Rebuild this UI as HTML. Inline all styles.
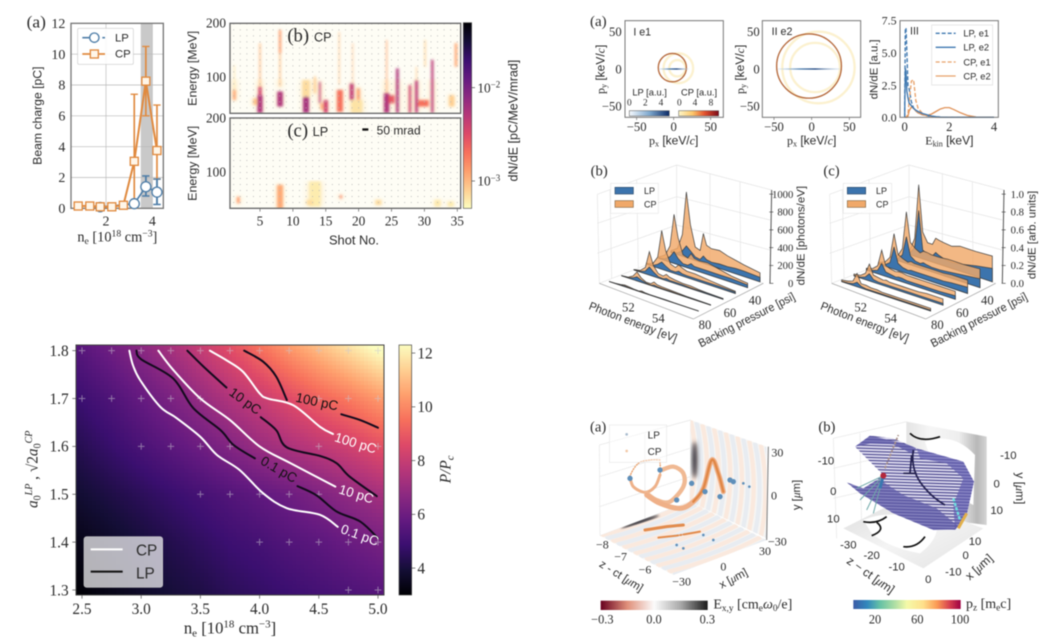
<!DOCTYPE html>
<html lang="en"><head><meta charset="utf-8"><title>Polarization comparison figure</title>
<style>
html,body{margin:0;padding:0;background:#fff;width:1064px;height:640px;overflow:hidden}
svg{display:block;filter:blur(.4px)}
text{font-family:"Liberation Sans","DejaVu Sans",sans-serif;fill:#2a2a2a}
.s{font-family:"Liberation Serif","DejaVu Serif",serif}
</style></head><body>
<svg id="fig" xmlns="http://www.w3.org/2000/svg" width="1064" height="640" viewBox="0 0 1064 640">
<defs>
<clipPath id="clipB"><rect x="690" y="70" width="692" height="270"/></clipPath>
<clipPath id="clipC"><rect x="690" y="354" width="692" height="271"/></clipPath>
<clipPath id="clipHeat"><rect x="228" y="45" width="924" height="750"/></clipPath>
<clipPath id="clipWall"><polygon points="362,45 590,125 590,400 360,290"/></clipPath>
<clipPath id="clipFloor"><polygon points="90,392 360,290 590,405 310,510"/></clipPath>
<clipPath id="clipMesh"><path d="M855,125 L900,92 L970,100 L1040,130 L1180,170 L1212,230 L1190,330 L1155,375 L1090,375 L970,325 L870,265 L830,232 L880,250 L920,225 L940,210 Z"/></clipPath>
<filter id="soft" x="-5%" y="-5%" width="110%" height="110%"><feGaussianBlur stdDeviation="4"/></filter>
<filter id="softHalo" x="-5%" y="-5%" width="110%" height="110%"><feGaussianBlur stdDeviation="8"/></filter>
<filter id="softer" x="-60%" y="-40%" width="220%" height="180%"><feGaussianBlur stdDeviation="6"/></filter>
<linearGradient id="gMagma" x1="0" y1="1" x2="0" y2="0"><stop offset="0" stop-color="#000004"/><stop offset=".1" stop-color="#140e36"/><stop offset=".2" stop-color="#3b0f70"/><stop offset=".3" stop-color="#641a80"/><stop offset=".4" stop-color="#8c2981"/><stop offset=".5" stop-color="#b73779"/><stop offset=".6" stop-color="#de4968"/><stop offset=".7" stop-color="#f7705c"/><stop offset=".8" stop-color="#fe9f6d"/><stop offset=".9" stop-color="#fecf92"/><stop offset="1" stop-color="#fcfdbf"/></linearGradient>
<linearGradient id="gMagmaR" x1="0" y1="0" x2="0" y2="1"><stop offset="0" stop-color="#000004"/><stop offset=".1" stop-color="#140e36"/><stop offset=".2" stop-color="#3b0f70"/><stop offset=".3" stop-color="#641a80"/><stop offset=".4" stop-color="#8c2981"/><stop offset=".5" stop-color="#b73779"/><stop offset=".6" stop-color="#de4968"/><stop offset=".7" stop-color="#f7705c"/><stop offset=".8" stop-color="#fe9f6d"/><stop offset=".9" stop-color="#fecf92"/><stop offset="1" stop-color="#fcfdbf"/></linearGradient>
<linearGradient id="gBlues"><stop offset="0" stop-color="#f5f9fd"/><stop offset=".5" stop-color="#7fa9cf"/><stop offset="1" stop-color="#0b2a66"/></linearGradient>
<linearGradient id="gHot"><stop offset="0" stop-color="#fdf6c8"/><stop offset=".35" stop-color="#fdc76a"/><stop offset=".65" stop-color="#e3522f"/><stop offset="1" stop-color="#7a0a18"/></linearGradient>
<linearGradient id="gRdGy"><stop offset="0" stop-color="#67001f"/><stop offset=".25" stop-color="#e0907a"/><stop offset=".5" stop-color="#fbfbfb"/><stop offset=".75" stop-color="#a8a8a8"/><stop offset="1" stop-color="#1a1a1a"/></linearGradient>
<linearGradient id="gSpec"><stop offset="0" stop-color="#3b5ba6"/><stop offset=".13" stop-color="#3288bd"/><stop offset=".25" stop-color="#66c2a5"/><stop offset=".38" stop-color="#abdda4"/><stop offset=".5" stop-color="#f5f9a8"/><stop offset=".65" stop-color="#fee08b"/><stop offset=".78" stop-color="#fb9a55"/><stop offset=".9" stop-color="#d53e4f"/><stop offset="1" stop-color="#9e0142"/></linearGradient>
<linearGradient id="gBlueLineI"><stop offset="0" stop-color="#cfe0ee" stop-opacity=".4"/><stop offset=".35" stop-color="#4d7fb0"/><stop offset=".6" stop-color="#0f3a78"/><stop offset="1" stop-color="#cfe0ee" stop-opacity=".4"/></linearGradient>
<linearGradient id="gWallShade"><stop offset="0" stop-color="#e4e4e4"/><stop offset=".3" stop-color="#f6f6f6"/><stop offset=".65" stop-color="#eeeeee"/><stop offset=".88" stop-color="#b8b8b8"/><stop offset="1" stop-color="#d4d4d4"/></linearGradient>
<linearGradient id="gFloorShade" x1="0" y1="0" x2="1" y2="1"><stop offset="0" stop-color="#dcdcdc"/><stop offset=".5" stop-color="#f4f4f4"/><stop offset="1" stop-color="#e2e2e2"/></linearGradient>
</defs>

<!-- TOP LEFT -->
<g id="topLeft" transform="scale(.33333)">
 <text class="s" x="80" y="82" font-size="52">(a)</text>
 <g id="paneA"></g>
 <text x="352" y="724" class="s" font-size="43" text-anchor="middle">n<tspan dy="8" font-size="29">e</tspan><tspan dy="-8"> [10</tspan><tspan dy="-15" font-size="29">18</tspan><tspan dy="15"> cm</tspan><tspan dy="-15" font-size="29">−3</tspan><tspan dy="15">]</tspan></text>
 <text transform="translate(124,347) rotate(-90)" font-size="36" text-anchor="middle" textLength="295" lengthAdjust="spacingAndGlyphs">Beam charge [pC]</text>
 <rect x="233" y="85" width="167" height="108" fill="#fff" fill-opacity=".85" stroke="#ccc" stroke-width="2" rx="4"/>
 <line x1="247" y1="113" x2="315" y2="113" stroke="#4f7ea8" stroke-width="5" stroke-dasharray="46 14 8"/>
 <circle cx="283" cy="113" r="14" fill="#fff" stroke="#4f7ea8" stroke-width="4"/>
 <text x="345" y="125" font-size="34">LP</text>
 <line x1="247" y1="162" x2="315" y2="162" stroke="#e08a3f" stroke-width="5"/>
 <rect x="271" y="150" width="24" height="24" fill="#fff6e8" stroke="#e08a3f" stroke-width="4"/>
 <text x="345" y="173" font-size="34">CP</text>

 <rect x="690" y="70" width="692" height="270" fill="#fefdf5"/>
 <rect x="690" y="354" width="692" height="271" fill="#fefdf5"/>
 <g id="paneSpec"></g>
 <rect x="690" y="70" width="692" height="270" fill="none" stroke="#666" stroke-width="4"/>
 <rect x="690" y="354" width="692" height="271" fill="none" stroke="#666" stroke-width="4"/>
 <text class="s" x="862" y="125" font-size="56">(b)</text>
 <text x="942" y="124" font-size="38">CP</text>
 <text class="s" x="862" y="410" font-size="56">(c)</text>
 <text x="938" y="408" font-size="38">LP</text>
 <rect x="1087" y="385" width="18" height="7" fill="#111"/>
 <text x="1130" y="403" font-size="36">50 mrad</text>
 <text x="1062" y="734" font-size="38" text-anchor="middle" textLength="150" lengthAdjust="spacingAndGlyphs">Shot No.</text>
 <text transform="translate(590,205) rotate(-90)" font-size="36" text-anchor="middle" textLength="225" lengthAdjust="spacingAndGlyphs">Energy [MeV]</text>
 <text transform="translate(590,490) rotate(-90)" font-size="36" text-anchor="middle" textLength="225" lengthAdjust="spacingAndGlyphs">Energy [MeV]</text>
 <rect x="1390" y="68" width="25" height="557" fill="url(#gMagmaR)" stroke="#555" stroke-width="2"/>
 <text class="s" x="1432" y="277" font-size="40">10<tspan dy="-14" font-size="27">−2</tspan></text>
 <text class="s" x="1432" y="557" font-size="40">10<tspan dy="-14" font-size="27">−3</tspan></text>
 <line x1="1415" y1="263" x2="1425" y2="263" stroke="#444" stroke-width="2"/>
 <line x1="1415" y1="543" x2="1425" y2="543" stroke="#444" stroke-width="2"/>
 <text transform="translate(1552,362) rotate(-90)" font-size="38" text-anchor="middle" textLength="365" lengthAdjust="spacingAndGlyphs">dN/dE [pC/MeV/mrad]</text>
</g>

<!-- BOTTOM LEFT -->
<g id="bottomLeft" transform="translate(0,330) scale(.33333)">
 <g id="heatCells" clip-path="url(#clipHeat)"></g>
 <g id="heatOver" clip-path="url(#clipHeat)"></g>
 <rect x="228" y="45" width="924" height="750" fill="none" stroke="#444" stroke-width="3"/>
 <g id="heatAxes"></g>
 <text transform="translate(948,228) rotate(12)" font-size="40" style="fill:#111" text-anchor="middle">100 pC</text>
 <text transform="translate(728,224) rotate(36)" font-size="40" style="fill:#111" text-anchor="middle">10 pC</text>
 <text transform="translate(830,430) rotate(30)" font-size="40" style="fill:#111" text-anchor="middle">0.1 pC</text>
 <text transform="translate(1063,352) rotate(17)" font-size="40" style="fill:#fff" text-anchor="middle">100 pC</text>
 <text transform="translate(1065,505) rotate(17)" font-size="40" style="fill:#fff" text-anchor="middle">10 pC</text>
 <text transform="translate(1075,628) rotate(20)" font-size="40" style="fill:#fff" text-anchor="middle">0.1 pC</text>
 <rect x="252" y="620" width="236" height="152" rx="8" fill="#fff" fill-opacity=".7" stroke="#ccc" stroke-width="2"/>
 <line x1="272" y1="658" x2="368" y2="658" stroke="#fff" stroke-width="6"/>
 <line x1="272" y1="725" x2="368" y2="725" stroke="#111" stroke-width="6"/>
 <text x="408" y="677" font-size="46">CP</text>
 <text x="408" y="745" font-size="46">LP</text>
 <rect x="1197" y="45" width="38" height="750" fill="url(#gMagma)" stroke="#444" stroke-width="2"/>
 <text class="s" transform="translate(1352,418) rotate(-90)" font-size="46" font-style="italic" text-anchor="middle">P/P<tspan dy="8" font-size="32">c</tspan></text>
 <text class="s" transform="translate(112,418) rotate(-90)" font-size="46" text-anchor="middle"><tspan font-style="italic">a</tspan><tspan dy="10" font-size="30">0</tspan><tspan dy="-26" font-size="30" font-style="italic">LP</tspan><tspan dy="16"> , √2</tspan><tspan font-style="italic">a</tspan><tspan dy="10" font-size="30">0</tspan><tspan dy="-26" font-size="30" font-style="italic">CP</tspan></text>
 <text class="s" x="690" y="910" font-size="50" text-anchor="middle">n<tspan dy="9" font-size="33">e</tspan><tspan dy="-9">  [10</tspan><tspan dy="-17" font-size="33">18</tspan><tspan dy="17"> cm</tspan><tspan dy="-17" font-size="33">−3</tspan><tspan dy="17">]</tspan></text>
</g>

<!-- TOP RIGHT -->
<g id="topRight" transform="translate(570,0) scale(.33333)">
 <text class="s" x="60" y="78" font-size="45">(a)</text>
 <g id="ringI"></g>
 <g id="ringII"></g>
 <g id="energy"></g>
 <rect x="165" y="62" width="295" height="290" fill="none" stroke="#777" stroke-width="3"/>
 <rect x="577" y="62" width="295" height="290" fill="none" stroke="#777" stroke-width="3"/>
 <rect x="990" y="62" width="295" height="290" fill="none" stroke="#777" stroke-width="3"/>
 <text x="190" y="107" font-size="32">I e1</text>
 <text x="605" y="105" font-size="32">II e2</text>
 <text x="1020" y="104" font-size="32">III</text>
 <text x="187" y="287" font-size="28">LP [a.u.]</text>
 <text x="333" y="287" font-size="28">CP [a.u.]</text>
 <rect x="178" y="332" width="120" height="16" fill="url(#gBlues)" stroke="#555" stroke-width="1.5"/>
 <rect x="326" y="332" width="120" height="16" fill="url(#gHot)" stroke="#555" stroke-width="1.5"/>
 <text class="s" x="178" y="316" font-size="28" text-anchor="middle">0</text>
 <text class="s" x="226" y="316" font-size="28" text-anchor="middle">2</text>
 <text class="s" x="273" y="316" font-size="28" text-anchor="middle">4</text>
 <text class="s" x="328" y="316" font-size="28" text-anchor="middle">0</text>
 <text class="s" x="375" y="316" font-size="28" text-anchor="middle">4</text>
 <text class="s" x="423" y="316" font-size="28" text-anchor="middle">8</text>
 <text transform="translate(104,208) rotate(-90)" font-size="36" text-anchor="middle"><tspan class="s">p</tspan><tspan dy="6" font-size="24" class="s">y</tspan><tspan dy="-6"> [keV/</tspan><tspan class="s" font-style="italic">c</tspan>]</text>
 <text x="311" y="433" font-size="36" text-anchor="middle"><tspan class="s">p</tspan><tspan dy="6" font-size="24" class="s">x</tspan><tspan dy="-6"> [keV/</tspan><tspan class="s" font-style="italic">c</tspan>]</text>
 <text transform="translate(522,208) rotate(-90)" font-size="36" text-anchor="middle"><tspan class="s">p</tspan><tspan dy="6" font-size="24" class="s">y</tspan><tspan dy="-6"> [keV/</tspan><tspan class="s" font-style="italic">c</tspan>]</text>
 <text x="725" y="433" font-size="36" text-anchor="middle"><tspan class="s">p</tspan><tspan dy="6" font-size="24" class="s">x</tspan><tspan dy="-6"> [keV/</tspan><tspan class="s" font-style="italic">c</tspan>]</text>
 <text transform="translate(922,208) rotate(-90)" font-size="34" text-anchor="middle">dN/dE [a.u.]</text>
 <text x="1138" y="433" font-size="36" text-anchor="middle"><tspan class="s">E</tspan><tspan dy="6" font-size="24" class="s">kin</tspan><tspan dy="-6"> [keV]</tspan></text>
 <rect x="1085" y="75" width="183" height="180" fill="#fff" fill-opacity=".85" stroke="#ddd" stroke-width="2"/>
 <line x1="1097" y1="100" x2="1157" y2="100" stroke="#3f78b0" stroke-width="4" stroke-dasharray="12 6"/>
 <line x1="1097" y1="142" x2="1157" y2="142" stroke="#3f78b0" stroke-width="4"/>
 <line x1="1097" y1="186" x2="1157" y2="186" stroke="#e8a26a" stroke-width="4" stroke-dasharray="12 6"/>
 <line x1="1097" y1="228" x2="1157" y2="228" stroke="#e8a26a" stroke-width="4"/>
 <text x="1180" y="110" font-size="28">LP, e1</text>
 <text x="1180" y="152" font-size="28">LP, e2</text>
 <text x="1180" y="196" font-size="28">CP, e1</text>
 <text x="1180" y="238" font-size="28">CP, e2</text>
</g>

<!-- MIDDLE RIGHT -->
<g id="midRight" transform="translate(570,155) scale(.33333)">
 <g id="pane3dB"></g>
 <g id="pane3dC"></g>
 <text class="s" x="62" y="62" font-size="44">(b)</text>
 <text class="s" x="760" y="62" font-size="44">(c)</text>
 <rect x="122" y="85" width="143" height="90" fill="#fff" fill-opacity=".8" stroke="#e6e6e6" stroke-width="2"/>
 <rect x="135" y="97" width="55" height="20" fill="#3c74ad" stroke="#2a4a6a" stroke-width="2"/>
 <rect x="135" y="137" width="55" height="20" fill="#f0a869" stroke="#8a6a45" stroke-width="2"/>
 <text x="222" y="117" font-size="27">LP</text>
 <text x="222" y="157" font-size="27">CP</text>
 <rect x="820" y="85" width="145" height="90" fill="#fff" fill-opacity=".8" stroke="#e6e6e6" stroke-width="2"/>
 <rect x="832" y="97" width="55" height="20" fill="#3c74ad" stroke="#2a4a6a" stroke-width="2"/>
 <rect x="832" y="137" width="55" height="20" fill="#f0a869" stroke="#8a6a45" stroke-width="2"/>
 <text x="918" y="117" font-size="27">LP</text>
 <text x="918" y="157" font-size="27">CP</text>
 <text transform="translate(185,512) rotate(21)" font-size="35" text-anchor="middle" textLength="280" lengthAdjust="spacingAndGlyphs">Photon energy [eV]</text>
 <text transform="translate(880,512) rotate(21)" font-size="35" text-anchor="middle" textLength="280" lengthAdjust="spacingAndGlyphs">Photon energy [eV]</text>
 <text transform="translate(535,505) rotate(-27)" font-size="35" text-anchor="middle" textLength="320" lengthAdjust="spacingAndGlyphs">Backing pressure [psi]</text>
 <text transform="translate(1232,505) rotate(-27)" font-size="35" text-anchor="middle" textLength="320" lengthAdjust="spacingAndGlyphs">Backing pressure [psi]</text>
 <text transform="translate(704,242) rotate(-90)" font-size="33" text-anchor="middle" textLength="298" lengthAdjust="spacingAndGlyphs">dN/dE [photons/eV]</text>
 <text transform="translate(1396,240) rotate(-90)" font-size="33" text-anchor="middle" textLength="265" lengthAdjust="spacingAndGlyphs">dN/dE [arb. units]</text>
</g>

<!-- BOTTOM RIGHT -->
<g id="botRight" transform="translate(570,405) scale(.33333)">
 <g id="scene3a"></g>
 <g id="scene3b"></g>
 <text class="s" x="60" y="80" font-size="44">(a)</text>
 <text class="s" x="745" y="80" font-size="44">(b)</text>
 <rect x="118" y="60" width="172" height="112" fill="#fff" fill-opacity=".45" stroke="#e8e8e8" stroke-width="2"/>
 <circle cx="170" cy="88" r="4" fill="#a9bccf"/>
 <circle cx="170" cy="138" r="4" fill="#f2c9a8"/>
 <text x="233" y="100" font-size="30">LP</text>
 <text x="233" y="150" font-size="30">CP</text>
 <text class="s" x="97" y="430" font-size="36" text-anchor="middle">−8</text>
 <text class="s" x="152" y="466" font-size="36" text-anchor="middle">−7</text>
 <text class="s" x="225" y="505" font-size="36" text-anchor="middle">−6</text>
 <text class="s" x="335" y="542" font-size="36" text-anchor="middle">−30</text>
 <text class="s" x="460" y="496" font-size="36" text-anchor="middle">0</text>
 <text class="s" x="585" y="450" font-size="36" text-anchor="middle">30</text>
 <text class="s" x="622" y="155" font-size="36" text-anchor="middle">30</text>
 <text class="s" x="612" y="284" font-size="36" text-anchor="middle">0</text>
 <text class="s" x="622" y="422" font-size="36" text-anchor="middle">−30</text>
 <text transform="translate(148,522) rotate(32)" font-size="34" text-anchor="middle">z - ct [<tspan class="s" font-style="italic">μ</tspan>m]</text>
 <text transform="translate(495,530) rotate(-28)" font-size="34" text-anchor="middle">x [<tspan class="s" font-style="italic">μ</tspan>m]</text>
 <text transform="translate(690,270) rotate(-90)" font-size="34" text-anchor="middle">y [<tspan class="s" font-style="italic">μ</tspan>m]</text>
 <rect x="92" y="587" width="321" height="28" fill="url(#gRdGy)"/>
 <text class="s" x="97" y="655" font-size="37" text-anchor="middle">−0.3</text>
 <text class="s" x="252" y="655" font-size="37" text-anchor="middle">0.0</text>
 <text class="s" x="412" y="655" font-size="37" text-anchor="middle">0.3</text>
 <text class="s" x="430" y="611" font-size="42">E<tspan dy="7" font-size="28">x,y</tspan><tspan dy="-7"> [cm</tspan><tspan dy="7" font-size="28">e</tspan><tspan dy="-7" font-style="italic">ω</tspan><tspan dy="7" font-size="28">0</tspan><tspan dy="-7">/e]</tspan></text>
 <text x="768" y="178" font-size="34" text-anchor="middle">-10</text>
 <text x="790" y="270" font-size="34" text-anchor="middle">0</text>
 <text x="790" y="352" font-size="34" text-anchor="middle">10</text>
 <text x="835" y="430" font-size="34" text-anchor="middle">-30</text>
 <text x="905" y="462" font-size="34" text-anchor="middle">-20</text>
 <text x="980" y="497" font-size="34" text-anchor="middle">-10</text>
 <text x="1075" y="534" font-size="34" text-anchor="middle">0</text>
 <text x="1150" y="512" font-size="34" text-anchor="middle">-10</text>
 <text x="1187" y="462" font-size="34" text-anchor="middle">0</text>
 <text x="1215" y="420" font-size="34" text-anchor="middle">10</text>
 <text x="1315" y="162" font-size="34" text-anchor="middle">-10</text>
 <text x="1280" y="247" font-size="34" text-anchor="middle">0</text>
 <text x="1280" y="327" font-size="34" text-anchor="middle">10</text>
 <text transform="translate(895,520) rotate(35)" font-size="36" text-anchor="middle">z − ct [<tspan class="s" font-style="italic">μ</tspan>m]</text>
 <text transform="translate(1235,495) rotate(-42)" font-size="36" text-anchor="middle">x [<tspan class="s" font-style="italic">μ</tspan>m]</text>
 <text transform="translate(1338,250) rotate(90)" font-size="36" text-anchor="middle">y [<tspan class="s" font-style="italic">μ</tspan>m]</text>
 <rect x="850" y="585" width="322" height="27" fill="url(#gSpec)"/>
 <text class="s" x="915" y="655" font-size="37" text-anchor="middle">20</text>
 <text class="s" x="1042" y="655" font-size="37" text-anchor="middle">60</text>
 <text class="s" x="1170" y="655" font-size="37" text-anchor="middle">100</text>
 <text class="s" x="1188" y="609" font-size="42">p<tspan dy="7" font-size="28">z</tspan><tspan dy="-7"> [m</tspan><tspan dy="7" font-size="28">e</tspan><tspan dy="-7">c]</tspan></text>
</g>
</svg>

<script>
/* ---------- data: beam charge ---------- */
const chargeNe = [0.8, 1.3, 1.75, 2.25, 2.75, 3.22, 3.72, 4.2];
const chargeCP = [0.15, 0.15, 0.1, 0.1, 0.2, 3.05, 8.25, 3.75];
const chargeCPLow = [0.1, 0.1, 0.05, 0.05, 0.1, 0.0, 6.0, 1.9];
const chargeCPHigh = [0.2, 0.2, 0.15, 0.15, 0.4, 7.4, 10.5, 6.7];
const chargeLPNe = [1.75, 3.22, 3.72, 4.2];
const chargeLP = [0.08, 0.3, 1.4, 1.05];
const chargeLPLow = [0.05, 0.1, 0.8, 0.25];
const chargeLPHigh = [0.12, 0.5, 2.1, 1.9];
const chargeYTicks = [0, 2, 4, 6, 8, 10, 12];
const chargeXTicks = [2, 4];

/* ---------- data: shot spectra ---------- */
const cpShot = [1.1,1.1,5,5,5,8.05,8.05,8.05,4.25,12,12,13.35,14.1,14.4,15,17.15,17.05,19.1,18.95,19.95,19.7,24.25,24.25,25.9,25,27.8,28.8,28.8,30.1,29.85,31.2,34.15,34.8];
const cpHigh = [122,76,163,82,66,188,144,73,60,94,63,101,91,51,57,76,184,163,88,79,57,169,70,116,66,85,94,119,169,57,132,66,163];
const cpLow = [76,57,82,66,33,144,82,45,48,63,33,70,51,39,33,35,85,88,57,57,33,70,33,33,51,33,33,94,119,45,33,45,119];
const cpLevel = [.08,.25,.2,.6,.72,.28,.18,.72,.18,.1,.75,.15,.65,.25,.6,.42,.18,.22,.65,.28,.08,.24,.72,.72,.5,.62,.68,.15,.14,.42,.68,.14,.25];
const cpSpread = [.15,.45,.22,.5,.8,.35,.22,.85,.6,1.1,.9,.3,.25,.4,.65,.9,.15,.12,.6,.45,1.7,.18,.8,.42,.9,.35,.42,.16,.2,1.6,.35,.8,.4];
const lpShot = [1.7,8.05,13.35,13.35,12.6,17.3,23,32,34];
const lpHigh = [55,77,74,83,49,58,49,49,46];
const lpLow = [43,33,61,37,40,52,40,37,37];
const lpLevel = [.3,.25,.55,.05,.1,.35,.1,.06,.05];
const lpSpread = [.4,.9,.4,1.7,1,.35,.9,.9,.9];
const specShotTicks = [5,10,15,20,25,30,35];
const specEnergyTicks = [200,100];

/* ---------- data: threshold heat map ---------- */
const heatNe = [2.5,2.75,3,3.25,3.5,3.75,4,4.25,4.5,4.75,5];
const heatA = [1.3,1.4,1.5,1.6,1.7,1.8];
const heatP13 = [3.1,3.4,3.7,4.0,4.2,4.5,4.7,4.9,5.1,5.3,5.5];
const heatP14 = [3.4,3.7,4.0,4.3,4.6,4.9,5.1,5.4,5.6,5.9,6.2];
const heatP15 = [3.9,4.2,4.5,4.8,5.1,5.4,5.7,6.0,6.4,6.8,7.2];
const heatP16 = [4.4,4.8,5.2,5.6,6.0,6.5,7.0,7.4,7.8,8.2,8.7];
const heatP17 = [4.9,5.3,5.8,6.3,6.9,7.5,8.0,8.6,9.2,9.7,10.3];
const heatP18 = [5.5,6.0,6.6,7.2,7.9,8.6,9.4,10.2,10.9,11.6,12.3];
const heatXTicks = ['2.5','3.0','3.5','4.0','4.5','5.0'];
const heatYTicks = ['1.8','1.7','1.6','1.5','1.4','1.3'];
const heatBarTicks = [4,6,8,10,12];
const cp01Ne = [2.90,2.93,2.99,3.16,3.30,3.50,3.64,3.83,4.03,4.23,4.51,4.66];
const cp01A = [1.80,1.77,1.739,1.683,1.659,1.62,1.582,1.551,1.502,1.471,1.457,1.432];
const lp01aNe = [2.96,3.0,3.27,3.44,3.67,3.78,3.96];
const lp01aA = [1.8,1.782,1.742,1.68,1.634,1.603,1.575];
const lp01bNe = [4.32,4.48,4.65,4.85,5.0];
const lp01bA = [1.517,1.498,1.464,1.443,1.408];
const cp10Ne = [3.145,3.27,3.5,3.75,4.0,4.26,4.64];
const cp10A = [1.8,1.76,1.70,1.655,1.60,1.565,1.516];
const lp10aNe = [3.39,3.525,3.72];
const lp10aA = [1.8,1.767,1.723];
const lp10bNe = [4.01,4.14,4.23,4.51,4.65,4.76,4.99];
const lp10bA = [1.661,1.634,1.598,1.58,1.565,1.537,1.496];
const cp100Ne = [3.58,3.72,3.86,4.0,4.07,4.285,4.51,4.62];
const cp100A = [1.8,1.78,1.756,1.711,1.70,1.686,1.641,1.626];
const lp100aNe = [3.87,4.03,4.14,4.23];
const lp100aA = [1.8,1.777,1.746,1.697];
const lp100bNe = [4.69,4.85,5.0];
const lp100bA = [1.667,1.655,1.639];
const scanNe = [2.5,2.75,3,3.25,3.5,3.75,4,4.25,4.5,4.75,5, 2.5,2.75,3,3.25,3.5,4.5,4.75,5, 3,3.25,3.5,3.75,4.5,5, 3.5,3.75,4,4.25,4.5, 4,4.25,4.5,4.75,5, 4.75,5];
const scanA = [1.8,1.8,1.8,1.8,1.8,1.8,1.8,1.8,1.8,1.8,1.8, 1.7,1.7,1.7,1.7,1.7,1.7,1.7,1.7, 1.6,1.6,1.6,1.6,1.6,1.6, 1.5,1.5,1.5,1.5,1.5, 1.4,1.4,1.4,1.4,1.4, 1.3,1.3];

/* ---------- data: momentum rings and energy spectrum ---------- */
const ringsIX = [6.3,5,-1.8];
const ringsIY = [1,1,1.8];
const ringsIR = [20,11,19];
const ringsIIX = [9,4.5,-3.5];
const ringsIIY = [2,2,4];
const ringsIIR = [48,33,43];
const ringLevels = [.22,.25,.8];
const momentumTicks = [-50,0,50];
const ekinAxis = [0,.03,.06,.1,.15,.2,.3,.4,.5,.6,.8,1,1.2,1.4,1.6,1.8,2,2.2,2.5,2.8,3.2,4];
const lpE1 = [0,6.9,6.9,5,2.4,2.2,1.2,.7,.5,.35,.2,.12,.06,.03,.01,0,0,0,0,0,0,0];
const lpE2 = [0,3.8,3.5,2,1.5,1.1,.9,.7,.55,.45,.3,.2,.1,.05,.02,0,0,0,0,0,0,0];
const cpE1 = [0,0,0,.1,.3,1.2,2.8,2.9,1.3,.7,.3,.1,.03,.01,0,0,0,0,0,0,0,0];
const cpE2 = [0,0,0,0,.1,.5,.8,.7,.5,.35,.2,.15,.25,.45,.65,.75,.75,.6,.35,.15,.02,0];
const ekinXTicks = [0,2,4];
const ekinYTicks = [0,2.5,5,7.5];

/* ---------- data: 3-D photon spectra (index = ribbon, 5 is furthest back) ---------- */
const photonE = [51,51.4,51.7,51.95,52.2,52.5,52.8,53,53.2,53.5,54,54.5,55,55.5,56.5];
const bCP5 = [20,70,240,730,380,150,130,330,210,190,200,170,150,130,100];
const bLP5 = [10,20,60,130,90,40,30,80,50,40,50,50,60,60,50];
const bCP4 = [15,60,180,545,300,130,110,170,130,120,130,110,90,70,50];
const bLP4 = [5,20,60,130,70,30,30,60,40,40,40,40,40,40,30];
const bCP3 = [10,30,120,430,220,90,70,110,90,70,70,60,50,40,25];
const bLP3 = [5,10,40,80,50,20,20,40,25,20,20,20,20,20,15];
const bCP2 = [5,20,70,260,120,50,40,70,50,40,30,30,20,15,10];
const bLP2 = [3,10,30,90,50,15,10,25,15,15,15,10,10,10,8];
const bCP1 = [3,10,40,100,50,20,20,50,30,25,20,15,10,8,5];
const bLP1 = [2,5,20,45,25,10,5,15,10,8,8,5,5,5,3];
const bCP0 = [2,5,10,20,15,8,5,15,8,5,5,5,3,3,2];
const bLP0 = [1,2,5,10,6,3,2,5,3,2,2,2,1,1,1];
const cCP5 = [.02,.05,.2,.82,.3,.2,.2,.28,.27,.26,.25,.28,.28,.28,.29];
const cLP5 = [.01,.02,.1,.53,.1,.07,.07,.12,.1,.08,.07,.08,.1,.12,.15];
const cCP4 = [.02,.05,.15,.58,.25,.2,.17,.2,.2,.19,.19,.2,.2,.2,.21];
const cLP4 = [.01,.02,.08,.3,.1,.06,.05,.07,.06,.05,.05,.06,.07,.08,.1];
const cCP3 = [.02,.05,.12,.4,.18,.15,.13,.15,.14,.14,.14,.14,.14,.15,.15];
const cLP3 = [.01,.02,.06,.25,.08,.05,.04,.05,.05,.05,.05,.05,.05,.06,.07];
const cCP2 = [.02,.04,.09,.28,.12,.1,.09,.1,.1,.09,.09,.09,.09,.09,.09];
const cLP2 = [.01,.02,.04,.13,.05,.04,.03,.04,.04,.03,.03,.03,.03,.03,.04];
const cCP1 = [.02,.03,.07,.19,.08,.07,.06,.07,.06,.06,.06,.06,.06,.07,.07];
const cLP1 = [.005,.01,.03,.08,.03,.02,.02,.02,.02,.02,.02,.02,.02,.02,.02];
const cCP0 = [.02,.03,.05,.15,.05,.05,.04,.04,.04,.03,.03,.03,.03,.03,.03];
const cLP0 = [.005,.01,.02,.05,.02,.01,.01,.01,.01,.01,.01,.01,.01,.01,.01];
const bZTicks = ['0','200','400','600','800','1000'];
const cZTicks = ['0.0','0.2','0.4','0.6','0.8','1.0'];

/* ---------- data: simulated particle scene ---------- */
const orbit1X = [270,240,205,180,190,225,255,270,270];
const orbit1Y = [165,165,175,215,245,262,245,210,170];
const orbit2X = [275,310,340,340,300,260,230];
const orbit2Y = [195,185,205,245,290,285,265];
const orbit3X = [230,270,330,370,400,425,445,460];
const orbit3Y = [270,295,310,290,250,165,205,260];
const lpBlobX = [270,180,320,365,405,450,480,490,520,538,400,430,320,340];
const lpBlobY = [195,220,285,235,260,275,225,230,235,245,390,405,420,430];
const floorBandX = [225,290,340,265,320,390];
const floorBandY = [375,365,360,398,392,380];

/* ---------- helpers ---------- */
const NS = 'http://www.w3.org/2000/svg';
function mk(parent, tag, attrs, name) {
  const el = document.createElementNS(NS, tag);
  for (const k in attrs) el.setAttribute(k, attrs[k]);
  
  
  parent.appendChild(el);
  return el;
}
function tx(parent, x, y, str, size, anchor, cls, name) {
  const el = mk(parent, 'text', {x: x, y: y, 'font-size': size, 'text-anchor': anchor}, name);
  if (cls) el.setAttribute('class', cls);
  el.textContent = str;
  return el;
}
const $ = id => document.getElementById(id);
const magmaStops = [[0,0,4],[20,14,54],[59,15,112],[100,26,128],[140,41,129],[183,55,121],[222,73,104],[247,112,92],[254,159,109],[254,207,146],[252,253,191]];
function magma(t) {
  t = Math.max(0, Math.min(1, t)) * 10;
  const i = Math.min(9, Math.floor(t)), f = t - i, a = magmaStops[i], b = magmaStops[i + 1];
  return 'rgb(' + [0,1,2].map(c => Math.round(a[c] + (b[c] - a[c]) * f)).join(',') + ')';
}
function linePath(xs, ys, fx, fy) {
  return xs.map((v, i) => (i ? 'L' : 'M') + fx(v).toFixed(1) + ',' + fy(ys[i]).toFixed(1)).join(' ');
}
function smoothPath(xs, ys, fx, fy) {
  const P = xs.map((v, i) => [fx(v), fy(ys[i])]);
  let d = 'M' + P[0][0].toFixed(1) + ',' + P[0][1].toFixed(1);
  for (let i = 0; i < P.length - 1; i++) {
    const p0 = P[Math.max(0, i - 1)], p1 = P[i], p2 = P[i + 1], p3 = P[Math.min(P.length - 1, i + 2)];
    d += 'C' + (p1[0] + (p2[0] - p0[0]) / 6).toFixed(1) + ',' + (p1[1] + (p2[1] - p0[1]) / 6).toFixed(1) + ' ' +
         (p2[0] - (p3[0] - p1[0]) / 6).toFixed(1) + ',' + (p2[1] - (p3[1] - p1[1]) / 6).toFixed(1) + ' ' +
         p2[0].toFixed(1) + ',' + p2[1].toFixed(1);
  }
  return d;
}

/* ---------- beam charge ---------- */
(function () {
  const g = $('paneA');
  const xA = v => 318 + (v - 2) * 69.5, yA = v => 625 - v * 46.25;
  mk(g, 'rect', {x: 213, y: 70, width: 277, height: 555, fill: '#fff'}, 'beam-charge-plot-area');
  mk(g, 'rect', {x: xA(3.5), y: 70, width: xA(4) - xA(3.5), height: 555, fill: '#c9c9c9'}, 'optimal-density-band');
  chargeYTicks.forEach(v => {
    mk(g, 'line', {x1: 213, x2: 490, y1: yA(v), y2: yA(v), stroke: '#b9b9b9', 'stroke-width': 2}, 'charge-gridline');
    tx(g, 196, yA(v) + 14, String(v), 42, 'end', 's', 'charge-y-tick-label');
  });
  chargeXTicks.forEach(v => {
    mk(g, 'line', {x1: xA(v), x2: xA(v), y1: 70, y2: 625, stroke: '#b9b9b9', 'stroke-width': 2}, 'charge-gridline');
    tx(g, xA(v), 676, String(v), 42, 'middle', 's', 'charge-x-tick-label');
  });
  mk(g, 'rect', {x: 213, y: 70, width: 277, height: 555, fill: 'none', stroke: '#777', 'stroke-width': 4}, 'beam-charge-frame');
  function err(xs, lo, hi, color, nm) {
    xs.forEach((x, i) => {
      mk(g, 'line', {x1: xA(x), x2: xA(x), y1: yA(lo[i]), y2: yA(hi[i]), stroke: color, 'stroke-width': 5}, nm + '-error-bar');
      mk(g, 'line', {x1: xA(x) - 11, x2: xA(x) + 11, y1: yA(hi[i]), y2: yA(hi[i]), stroke: color, 'stroke-width': 4}, nm + '-error-cap');
      mk(g, 'line', {x1: xA(x) - 11, x2: xA(x) + 11, y1: yA(lo[i]), y2: yA(lo[i]), stroke: color, 'stroke-width': 4}, nm + '-error-cap');
    });
  }
  err(chargeLPNe, chargeLPLow, chargeLPHigh, '#4f7ea8', 'lp');
  mk(g, 'path', {d: linePath(chargeLPNe, chargeLP, xA, yA), fill: 'none', stroke: '#4f7ea8', 'stroke-width': 5}, 'lp-charge-line');
  chargeLPNe.forEach((x, i) => {
    mk(g, 'circle', {cx: xA(x), cy: yA(chargeLP[i]), r: 14, fill: '#fff', stroke: '#4f7ea8', 'stroke-width': 4}, 'lp-charge-point');
  });
  err(chargeNe, chargeCPLow, chargeCPHigh, '#e08a3f', 'cp');
  mk(g, 'path', {d: linePath(chargeNe, chargeCP, xA, yA), fill: 'none', stroke: '#e08a3f', 'stroke-width': 6}, 'cp-charge-line');
  chargeNe.forEach((x, i) => {
    mk(g, 'rect', {x: xA(x) - 12, y: yA(chargeCP[i]) - 12, width: 24, height: 24, fill: '#fff6e8', stroke: '#e08a3f', 'stroke-width': 4}, 'cp-charge-point');
  });
  err(chargeLPNe.slice(2), chargeLPLow.slice(2), chargeLPHigh.slice(2), '#4f7ea8', 'lp-front');
  chargeLPNe.slice(1).forEach((x, i) => {
    mk(g, 'circle', {cx: xA(x), cy: yA(chargeLP[i + 1]), r: 15, fill: '#fff', stroke: '#4f7ea8', 'stroke-width': 4}, 'lp-charge-point-front');
  });
})();

/* ---------- shot spectra ---------- */
(function () {
  const g = $('paneSpec');
  const xS = s => 780 + (s - 5) * 19.73;
  const yB = e => 70 + (200 - e) * 1.61, yC = e => 354 + (200 - e) * 1.63;
  function blobs(shot, hi, lo, lvl, sp, fy, clip, nm) {
    const c = mk(g, 'g', {'clip-path': 'url(#' + clip + ')'}, nm + '-clip');
    const h = mk(c, 'g', {filter: 'url(#softHalo)'}, nm + '-halos');
    shot.forEach((s, i) => {
      const w = Math.max(sp[i] * 1.5, 1.1) * 19.73;
      if (lo[i] < 85) mk(h, 'rect', {x: xS(s) - w / 2, y: fy(Math.min(hi[i], 95)), width: w, height: fy(lo[i]) - fy(Math.min(hi[i], 95)), fill: '#fdeecb', 'fill-opacity': .75}, nm + '-halo');
    });
    const b = mk(c, 'g', {filter: 'url(#soft)'}, nm + '-streaks');
    shot.forEach((s, i) => {
      mk(b, 'rect', {x: xS(s) - sp[i] * 19.73 / 2, y: fy(hi[i]), width: sp[i] * 19.73, height: fy(lo[i]) - fy(hi[i]), fill: magma(1 - lvl[i] * .72)}, nm + '-streak');
    });
    const d = mk(c, 'g', {}, nm + '-shot-dots');
    for (let s = 1; s <= 35; s++) {
      mk(d, 'line', {x1: xS(s), x2: xS(s), y1: fy(200), y2: fy(33), stroke: '#b4b4b4', 'stroke-width': 2.5, 'stroke-dasharray': '3 15'}, nm + '-dotted-shot-line');
    }
  }
  blobs(cpShot, cpHigh, cpLow, cpLevel, cpSpread, yB, 'clipB', 'cp-spectra');
  blobs(lpShot, lpHigh, lpLow, lpLevel, lpSpread, yC, 'clipC', 'lp-spectra');
  specShotTicks.forEach(s => {
    mk(g, 'line', {x1: xS(s), x2: xS(s), y1: 625, y2: 635, stroke: '#555', 'stroke-width': 2}, 'shot-tick');
    tx(g, xS(s), 676, String(s), 40, 'middle', 's', 'shot-tick-label');
  });
  specEnergyTicks.forEach(e => {
    tx(g, 678, yB(e) + 13, String(e), 40, 'end', 's', 'energy-tick-label-b');
    tx(g, 678, yC(e) + 13, String(e), 40, 'end', 's', 'energy-tick-label-c');
  });
})();

/* ---------- threshold heat map ---------- */
(function () {
  const rows = [heatP13, heatP14, heatP15, heatP16, heatP17, heatP18];
  const xH = n => 246 + (n - 2.5) * 355.2, yH = a => 62 + (1.8 - a) * 1436;
  const invX = x => 2.5 + (x - 246) / 355.2, invY = y => 1.8 - (y - 62) / 1436;
  function sample(n, a) {
    const i = Math.max(0, Math.min(heatNe.length - 2, Math.floor((n - heatNe[0]) / (heatNe[1] - heatNe[0]))));
    const j = Math.max(0, Math.min(heatA.length - 2, Math.floor((a - heatA[0]) / (heatA[1] - heatA[0]))));
    const u = (n - heatNe[i]) / (heatNe[i + 1] - heatNe[i]), v = (a - heatA[j]) / (heatA[j + 1] - heatA[j]);
    return (1 - v) * ((1 - u) * rows[j][i] + u * rows[j][i + 1]) + v * ((1 - u) * rows[j + 1][i] + u * rows[j + 1][i + 1]);
  }
  const cells = $('heatCells');
  const step = 12;
  for (let x = 228; x < 1152; x += step) for (let y = 45; y < 795; y += step) {
    const p = sample(invX(x + step / 2), invY(y + step / 2));
    mk(cells, 'rect', {x: x, y: y, width: step + 1, height: step + 1, fill: magma((p - 3) / 9.3)}, 'heatmap-cell');
  }
  const o = $('heatOver');
  scanNe.forEach((n, i) => {
    mk(o, 'path', {d: 'M' + (xH(n) - 10) + ',' + yH(scanA[i]) + 'h20M' + xH(n) + ',' + (yH(scanA[i]) - 10) + 'v20', stroke: '#cbc6cf', 'stroke-opacity': .55, 'stroke-width': 3, fill: 'none'}, 'scan-point-marker');
  });
  [[cp01Ne, cp01A, '#fff', 'cp-0-1pc'], [cp10Ne, cp10A, '#fff', 'cp-10pc'], [cp100Ne, cp100A, '#fff', 'cp-100pc'],
   [lp01aNe, lp01aA, '#120a1c', 'lp-0-1pc'], [lp01bNe, lp01bA, '#120a1c', 'lp-0-1pc'], [lp10aNe, lp10aA, '#120a1c', 'lp-10pc'],
   [lp10bNe, lp10bA, '#120a1c', 'lp-10pc'], [lp100aNe, lp100aA, '#120a1c', 'lp-100pc'], [lp100bNe, lp100bA, '#120a1c', 'lp-100pc']].forEach(c => {
    mk(o, 'path', {d: smoothPath(c[0], c[1], xH, yH), fill: 'none', stroke: c[2], 'stroke-width': 6, 'stroke-linejoin': 'round', 'stroke-linecap': 'round'}, 'contour-' + c[3]);
  });
  const a = $('heatAxes');
  heatXTicks.forEach(t => {
    mk(a, 'line', {x1: xH(+t), x2: xH(+t), y1: 795, y2: 806, stroke: '#444', 'stroke-width': 2}, 'heatmap-x-tick');
    tx(a, xH(+t), 852, t, 46, 'middle', 's', 'heatmap-x-tick-label');
  });
  heatYTicks.forEach(t => {
    mk(a, 'line', {x1: 217, x2: 228, y1: yH(+t), y2: yH(+t), stroke: '#444', 'stroke-width': 2}, 'heatmap-y-tick');
    tx(a, 206, yH(+t) + 16, t, 46, 'end', 's', 'heatmap-y-tick-label');
  });
  const yBar = p => 795 - (p - 3) * (750 / 9.3);
  heatBarTicks.forEach(p => {
    mk(a, 'line', {x1: 1235, x2: 1246, y1: yBar(p), y2: yBar(p), stroke: '#444', 'stroke-width': 2}, 'power-ratio-tick');
    tx(a, 1252, yBar(p) + 16, String(p), 46, 'start', 's', 'power-ratio-tick-label');
  });
})();

/* ---------- momentum rings ---------- */
(function () {
  function ringColor(l) { return l > .5 ? '#b5683a' : '#fcf1cf'; }
  function panel(g, cx, sx, xs, ys, rs, nm, lineFrom, lineTo) {
    const fx = v => cx + v * sx, fy = v => 207 - v * 2.24;
    mk(g, 'rect', {x: cx - 146, y: 62, width: 295, height: 290, fill: '#fff'}, nm + '-background');
    xs.forEach((x, i) => {
      mk(g, 'ellipse', {cx: fx(x), cy: fy(ys[i]), rx: rs[i] * sx, ry: rs[i] * 2.24, fill: 'none', stroke: ringColor(ringLevels[i]), 'stroke-width': ringLevels[i] > .5 ? 4 : 7}, nm + '-ring');
    });
    mk(g, 'line', {x1: fx(lineFrom), x2: fx(lineTo), y1: 207, y2: 207.01, stroke: 'url(#gBlueLineI)', 'stroke-width': 4}, nm + '-lp-line');
    momentumTicks.forEach(v => {
      const lab = v < 0 ? '−' + Math.abs(v) : String(v);
      tx(g, fx(v), 393, lab, 38, 'middle', 's', nm + '-x-tick-label');
      tx(g, cx - 156, fy(v) + 13, lab, 38, 'end', 's', nm + '-y-tick-label');
      mk(g, 'line', {x1: fx(v), x2: fx(v), y1: 352, y2: 360, stroke: '#666', 'stroke-width': 2}, nm + '-x-tick');
    });
  }
  panel($('ringI'), 311, 2.22, ringsIX, ringsIY, ringsIR, 'map-e1', -20, 20);
  panel($('ringII'), 725, 2.26, ringsIIX, ringsIIY, ringsIIR, 'map-e2', -45, 38);
  const g = $('energy');
  const fx = v => 1004 + v * 67, fy = v => 352 - v * 38.8;
  [[lpE1, '#3f78b0', '12 6', 'lp-e1-spectrum'], [cpE1, '#e8a26a', '12 6', 'cp-e1-spectrum'], [cpE2, '#e0935a', '', 'cp-e2-spectrum'], [lpE2, '#3f78b0', '', 'lp-e2-spectrum']].forEach(s => {
    mk(g, 'path', {d: linePath(ekinAxis, s[0], fx, fy), fill: 'none', stroke: s[1], 'stroke-width': 4, 'stroke-dasharray': s[2]}, s[3]);
  });
  ekinXTicks.forEach(v => tx(g, fx(v), 393, String(v), 38, 'middle', 's', 'energy-x-tick-label'));
  ekinYTicks.forEach(v => tx(g, 980, fy(v) + 13, v.toFixed(1), 36, 'end', 's', 'energy-y-tick-label'));
})();

/* ---------- 3-D ribbons ---------- */
(function () {
  function scene(g, ox, cpSets, lpSets, zScale, zLabels, zStep, labelEnd, nm) {
    [[88,385,320,295],[320,295,580,385],[82,118,320,30],[320,30,605,105],[320,30,320,295],[82,118,88,385],
     [120,105,125,370],[200,75,205,340],[420,55,420,330],[510,80,512,360],[82,205,320,125],[82,295,320,210],[320,125,600,195],[320,210,600,285]].forEach(p => {
      mk(g, 'line', {x1: p[0] + ox, y1: p[1], x2: p[2] + ox, y2: p[3], stroke: '#e4e4e4', 'stroke-width': 2}, nm + '-grid-line');
    });
    [[88,385,370,492],[370,492,580,385]].forEach(p => {
      mk(g, 'line', {x1: p[0] + ox, y1: p[1], x2: p[2] + ox, y2: p[3], stroke: '#9a9a9a', 'stroke-width': 2}, nm + '-floor-edge');
    });
    mk(g, 'line', {x1: 605 + ox, y1: 105, x2: 600 + ox, y2: 385, stroke: '#555', 'stroke-width': 3}, nm + '-z-axis-line');
    const fx = (i, e) => 118 + ox + 37 * i + 267 * (e - 51) / 5.5;
    const fy = (i, e) => 380 - 17.5 * i + 88 * (e - 51) / 5.5;
    for (let i = 5; i >= 0; i--) {
      [[cpSets[i], '#f0a869', .82, 'cp'], [lpSets[i], '#3c74ad', 1, 'lp']].forEach(s => {
        let d = 'M' + fx(i, photonE[0]) + ',' + fy(i, photonE[0]);
        photonE.forEach((e, k) => { d += 'L' + fx(i, e).toFixed(1) + ',' + (fy(i, e) - s[0][k] * zScale).toFixed(1); });
        d += 'L' + fx(i, photonE[14]) + ',' + fy(i, photonE[14]) + 'Z';
        mk(g, 'path', {d: d, fill: s[1], 'fill-opacity': s[2], stroke: '#3a3a3a', 'stroke-width': 2}, nm + '-ribbon-' + s[3] + '-' + i);
      });
    }
    zLabels.forEach((t, i) => {
      const y = 385 - i * zStep;
      mk(g, 'line', {x1: 598 + ox, x2: 610 + ox, y1: y, y2: y, stroke: '#444', 'stroke-width': 2}, nm + '-z-tick');
      tx(g, labelEnd, y + 11, t, 32, 'end', 's', nm + '-z-tick-label');
    });
    [['52',175,470],['54',265,502],['40',555,448],['60',480,486],['80',405,522]].forEach(t => {
      tx(g, t[1] + ox, t[2], t[0], 38, 'middle', 's', nm + '-floor-tick-label');
    });
  }
  scene($('pane3dB'), 0, [bCP0,bCP1,bCP2,bCP3,bCP4,bCP5], [bLP0,bLP1,bLP2,bLP3,bLP4,bLP5], .27, bZTicks, 53.5, 670, 'photon-b');
  scene($('pane3dC'), 697, [cCP0,cCP1,cCP2,cCP3,cCP4,cCP5], [cLP0,cLP1,cLP2,cLP3,cLP4,cLP5], 267, cZTicks, 53.5, 1362, 'photon-c');
})();

/* ---------- simulation scene a ---------- */
(function () {
  const g = $('scene3a');
  const id = v => v;
  [[90,392,88,120],[88,120,362,45],[362,45,360,290],[90,392,360,290],[88,215,360,130],[88,305,360,215],[225,85,225,340]].forEach(p => {
    mk(g, 'line', {x1: p[0], y1: p[1], x2: p[2], y2: p[3], stroke: '#e6e6e6', 'stroke-width': 2}, 'scene-a-grid-line');
  });
  const wall = mk(g, 'g', {'clip-path': 'url(#clipWall)'}, 'field-wall');
  mk(wall, 'rect', {x: 355, y: 40, width: 240, height: 370, fill: '#f6f5f3'}, 'field-wall-background');
  for (let k = 0; k < 14; k++) {
    const t = k / 13;
    const x1 = 362 + 228 * t, y1 = 45 + 80 * t, x2 = 360 + 230 * t, y2 = 290 + 115 * t;
    mk(wall, 'path', {d: 'M' + x1 + ',' + y1 + 'Q' + (x1 + 28) + ',' + ((y1 + y2) / 2) + ' ' + x2 + ',' + y2, fill: 'none', stroke: k % 2 ? '#e8ecf1' : '#fae9de', 'stroke-width': 13}, 'field-wall-stripe');
  }
  mk(wall, 'ellipse', {cx: 374, cy: 165, rx: 8, ry: 55, fill: '#33333d', filter: 'url(#softer)'}, 'field-wall-core');
  const floor = mk(g, 'g', {'clip-path': 'url(#clipFloor)'}, 'field-floor');
  mk(floor, 'polygon', {points: '90,392 360,290 590,405 310,510', fill: '#f6f5f3'}, 'field-floor-background');
  for (let k = 0; k < 14; k++) {
    const t = k / 13;
    const x1 = 90 + 220 * t, y1 = 392 + 118 * t, x2 = 360 + 230 * t, y2 = 290 + 115 * t;
    mk(floor, 'path', {d: 'M' + x1 + ',' + y1 + 'Q' + ((x1 + x2) / 2 + 12) + ',' + ((y1 + y2) / 2 + 14) + ' ' + x2 + ',' + y2, fill: 'none', stroke: k % 2 ? '#e8ecf1' : '#fae9de', 'stroke-width': 13}, 'field-floor-stripe');
  }
  mk(floor, 'ellipse', {cx: 210, cy: 350, rx: 60, ry: 5, transform: 'rotate(-18 210 350)', fill: '#22222a', filter: 'url(#soft)'}, 'field-floor-core');
  mk(g, 'line', {x1: 595, y1: 125, x2: 590, y2: 405, stroke: '#777', 'stroke-width': 3}, 'scene-a-y-axis-line');
  mk(g, 'path', {d: smoothPath(orbit1X, orbit1Y, id, id), fill: 'none', stroke: '#e9a06a', 'stroke-width': 4, 'stroke-linecap': 'round', 'stroke-dasharray': '3 5'}, 'cp-particle-ring-1');
  mk(g, 'path', {d: smoothPath(orbit1X.slice(3, 8), orbit1Y.slice(3, 8), id, id), fill: 'none', stroke: '#eeb189', 'stroke-width': 9, 'stroke-linecap': 'round'}, 'cp-particle-ring-1-band');
  mk(g, 'path', {d: smoothPath(orbit2X, orbit2Y, id, id), fill: 'none', stroke: '#f0b993', 'stroke-width': 13, 'stroke-linecap': 'round'}, 'cp-particle-ring-2');
  mk(g, 'path', {d: smoothPath(orbit3X, orbit3Y, id, id), fill: 'none', stroke: '#efb088', 'stroke-width': 15, 'stroke-linecap': 'round'}, 'cp-particle-band');
  mk(g, 'path', {d: smoothPath(orbit3X.slice(3), orbit3Y.slice(3), id, id), fill: 'none', stroke: '#e08746', 'stroke-width': 7, 'stroke-linecap': 'round'}, 'cp-particle-band-core');
  mk(g, 'path', {d: linePath(floorBandX.slice(0, 3), floorBandY.slice(0, 3), id, id), fill: 'none', stroke: '#e28b4c', 'stroke-width': 9, 'stroke-linecap': 'round'}, 'cp-floor-projection-1');
  mk(g, 'path', {d: linePath(floorBandX.slice(3), floorBandY.slice(3), id, id), fill: 'none', stroke: '#e28b4c', 'stroke-width': 6, 'stroke-dasharray': '60 6 4 6', 'stroke-linecap': 'round'}, 'cp-floor-projection-2');
  lpBlobX.forEach((x, i) => {
    mk(g, 'circle', {cx: x, cy: lpBlobY[i], r: i < 8 ? 8 : 4, fill: '#5e8fba'}, 'lp-particle-cluster');
  });
})();

/* ---------- simulation scene b ---------- */
(function () {
  const g = $('scene3b');
  [[790,100,1010,50],[790,100,800,400],[1010,50,1010,240],[790,190,1010,140],[790,280,1010,230],[870,85,875,380]].forEach(p => {
    mk(g, 'line', {x1: p[0], y1: p[1], x2: p[2], y2: p[3], stroke: '#e6e6e6', 'stroke-width': 2}, 'scene-b-grid-line');
  });
  mk(g, 'polygon', {points: '1010,50 1250,95 1250,360 1010,330', fill: 'url(#gWallShade)'}, 'sheath-wall-projection');
  mk(g, 'polygon', {points: '820,370 1000,280 1240,370 1060,490', fill: 'url(#gFloorShade)'}, 'sheath-floor-projection');
  mk(g, 'path', {d: 'M1065,110 Q1150,80 1215,150 L1210,300 L1110,250 Z', fill: '#fff'}, 'sheath-wall-cavity');
  mk(g, 'path', {d: 'M880,345 Q960,310 1100,350 Q1110,400 1050,445 Q960,430 905,385 Z', fill: '#fff'}, 'sheath-floor-cavity');
  mk(g, 'path', {d: 'M1020,85 Q1050,115 1110,95', fill: 'none', stroke: '#111', 'stroke-width': 5}, 'sheath-wall-contour');
  mk(g, 'path', {d: 'M880,350 Q920,358 950,335 M920,352 Q950,375 905,392 M1000,425 Q1040,430 1065,395', fill: 'none', stroke: '#111', 'stroke-width': 5}, 'sheath-floor-contour');
  const mesh = mk(g, 'g', {'clip-path': 'url(#clipMesh)'}, 'sheath-mesh');
  mk(mesh, 'rect', {x: 820, y: 85, width: 400, height: 300, fill: '#dcdaee'}, 'sheath-mesh-base');
  for (let y = 92; y < 385; y += 9) {
    mk(mesh, 'line', {x1: 820, x2: 1220, y1: y, y2: y + 12, stroke: '#3f3b86', 'stroke-width': 3.2}, 'sheath-mesh-line');
  }
  mk(mesh, 'path', {d: 'M855,125 L900,92 L1040,125 L1030,148 L970,118 L900,116 Z', fill: '#5b57a6', 'fill-opacity': .78}, 'sheath-mesh-top-band');
  mk(mesh, 'path', {d: 'M1040,130 L1180,170 L1212,230 L1190,330 L1155,375 L1150,300 L1180,220 L1130,175 L1050,160 Z', fill: '#625eb0', 'fill-opacity': .72}, 'sheath-mesh-right-band');
  mk(mesh, 'path', {d: 'M830,232 L930,225 L1000,270 L1100,310 L1175,372 L1090,375 L970,325 L870,265 Z', fill: '#5b57a6', 'fill-opacity': .72}, 'sheath-mesh-bottom-band');
  mk(g, 'path', {d: 'M1030,135 Q1020,200 1065,250 Q1090,280 1125,300 M1000,205 L1040,205 M1025,150 L1020,205', fill: 'none', stroke: '#23204f', 'stroke-width': 5}, 'sheath-fold');
  [[940,212,870,285],[940,212,890,315],[940,212,910,325],[940,212,860,250]].forEach(p => {
    mk(g, 'line', {x1: p[0], y1: p[1], x2: p[2], y2: p[3], stroke: '#6fa8a8', 'stroke-width': 3}, 'trajectory-streak');
  });
  mk(g, 'path', {d: 'M945,190 L985,90', stroke: '#a89088', 'stroke-width': 5, fill: 'none', 'stroke-dasharray': '8 5'}, 'electron-streak');
  mk(g, 'path', {d: 'M940,212 L930,250', stroke: '#3a78b0', 'stroke-width': 9, fill: 'none'}, 'electron-bunch-tail');
  mk(g, 'circle', {cx: 940, cy: 212, r: 9, fill: '#b4283c'}, 'electron-bunch');
  mk(g, 'path', {d: 'M1150,280 L1170,345', stroke: '#6fe0e0', 'stroke-width': 7, fill: 'none', 'stroke-dasharray': '10 4'}, 'cyan-streak');
  mk(g, 'path', {d: 'M1165,370 L1190,325', stroke: '#e2b04a', 'stroke-width': 9, fill: 'none'}, 'yellow-streak');
})();
</script>
</body></html>
